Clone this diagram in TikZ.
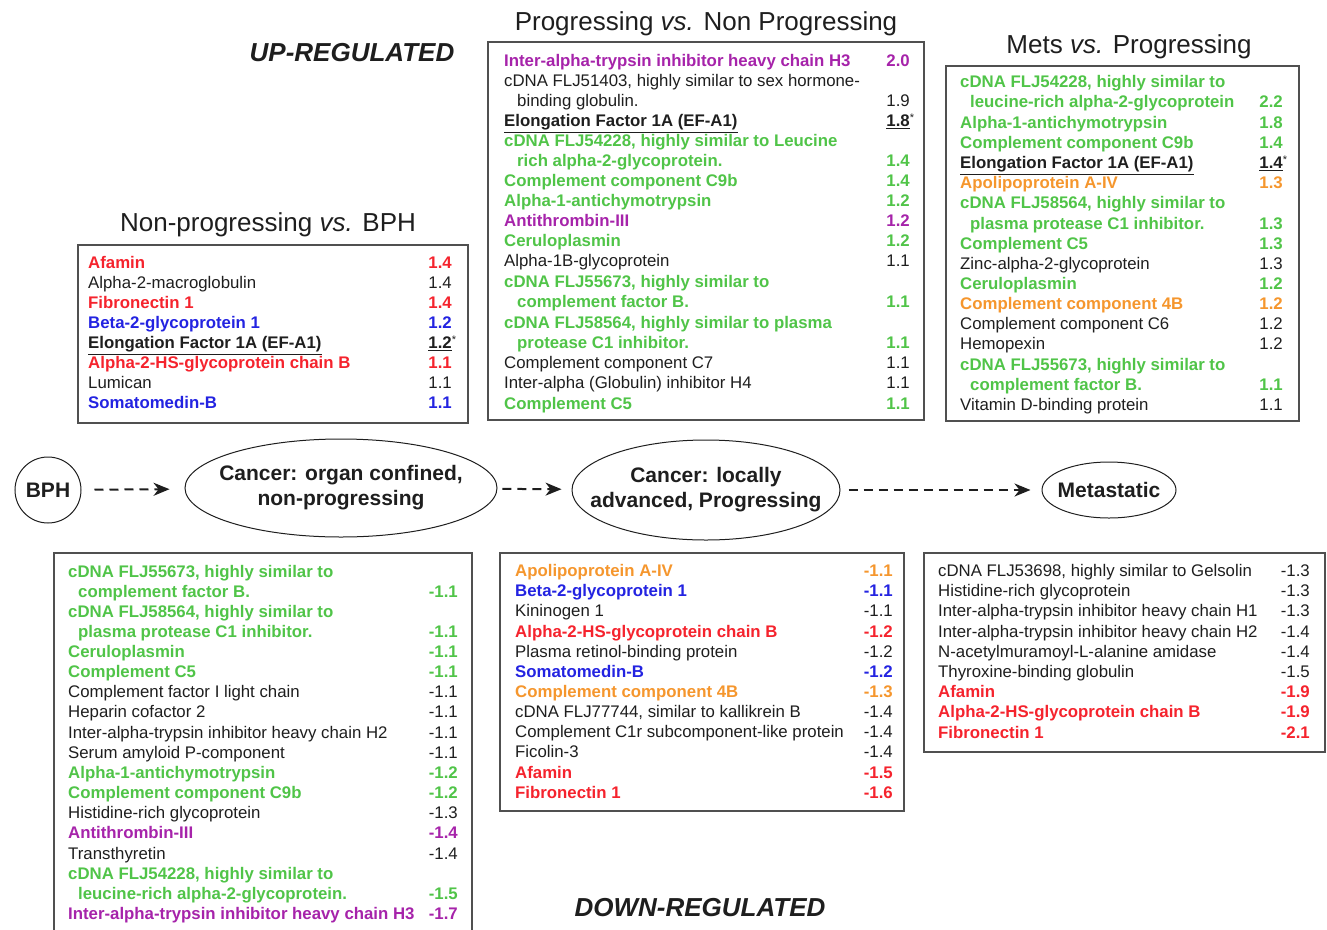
\documentclass[tikz,border=0pt]{standalone}
\usepackage{fontspec}
\setmainfont{Liberation Sans}
\usetikzlibrary{arrows.meta,shapes.geometric}
\definecolor{cgr}{RGB}{80,196,72}
\definecolor{cpu}{RGB}{166,35,170}
\definecolor{cre}{RGB}{245,35,45}
\definecolor{cbl}{RGB}{35,35,225}
\definecolor{cor}{RGB}{245,150,45}
\definecolor{cbk}{RGB}{30,30,30}
\definecolor{cbox}{RGB}{80,80,80}
\newcommand\fsn{\fontsize{16.8}{20}\selectfont}
\newcommand\fsb{\fontsize{16.8}{20}\selectfont\bfseries}
\newcounter{entc}
\newcommand\E[6]{\stepcounter{entc}%
 \node[nm,#1] (n\arabic{entc}) at (#2,#4) {#5};%
 \if\relax\detokenize{#6}\relax\else\node[vl,#1] (v\arabic{entc}) at (#3,#4) {#6};\fi}
\newcommand\EF[4]{\stepcounter{entc}%
 \node[nm,ef] (n\arabic{entc}) at (#1,#3) {\underline{Elongation Factor 1A (EF-A1)}};%
 \node[vl,ef] (v\arabic{entc}) at (#2,#3) {\underline{#4}\rlap{\fontsize{11}{11}\selectfont\mdseries\raisebox{5pt}{*}}};}
\tikzset{
 lbl/.style={font=\fsn, inner sep=0pt, text height=12pt, text depth=3.5pt, yshift=-1.5pt},
 nm/.style={lbl, anchor=west},
 vl/.style={lbl, anchor=east},
 bk/.style={text=cbk, font=\fsn},
 gr/.style={text=cgr, font=\fsb},
 pu/.style={text=cpu, font=\fsb},
 re/.style={text=cre, font=\fsb},
 bl/.style={text=cbl, font=\fsb},
 or/.style={text=cor, font=\fsb},
 ef/.style={text=cbk, font=\fsb},
 box/.style={draw=cbox, line width=1.4pt},
 ttl/.style={text=cbk, font=\fontsize{26}{30}\selectfont, inner sep=0pt, yshift=-2pt},
 bigttl/.style={text=cbk, font=\fontsize{26}{30}\selectfont\bfseries\itshape, inner sep=0pt, yshift=-1pt},
 stage/.style={draw=cbk, line width=1pt, ellipse, inner sep=0pt},
 stagetxt/.style={inner sep=0pt, align=center, text=cbk, font=\fontsize{21}{25}\selectfont\bfseries},
 darr/.style={draw=cbk, line width=2pt, dash pattern=on 9pt off 6pt,
   -{Stealth[length=16pt,width=13pt,inset=5pt]}},
}
\begin{document}
\begin{tikzpicture}[x=1pt,y=-1pt]
\useasboundingbox (0,0) rectangle (1327,929);
% titles
\node[bigttl] (tup) at (352,52) {UP-REGULATED};
\node[bigttl] (tdown) at (700,907) {DOWN-REGULATED};
\node[ttl] (t2) at (706,22) {Progressing \textit{vs.} Non Progressing};
\node[ttl] (t3) at (1129,45) {Mets \textit{vs.} Progressing};
\node[ttl] (t1) at (268,223) {Non-progressing \textit{vs.} BPH};
% boxes
\draw[box] (78,245) rectangle (468,423);
\draw[box] (488,42) rectangle (924,420);
\draw[box] (946,66) rectangle (1299,421);
\draw[box] (54,553) rectangle (472,945);
\draw[box] (500,553) rectangle (904,811);
\draw[box] (924,553) rectangle (1325,752);
% box 1
\E{re}{88}{452}{263}{Afamin}{1.4}
\E{bk}{88}{452}{283}{Alpha-2-macroglobulin}{1.4}
\E{re}{88}{452}{303}{Fibronectin 1}{1.4}
\E{bl}{88}{452}{323}{Beta-2-glycoprotein 1}{1.2}
\EF{88}{452}{343}{1.2}
\E{re}{88}{452}{363}{Alpha-2-HS-glycoprotein chain B}{1.1}
\E{bk}{88}{452}{383}{Lumican}{1.1}
\E{bl}{88}{452}{403}{Somatomedin-B}{1.1}
% box 2
\E{pu}{504}{910}{61}{Inter-alpha-trypsin inhibitor heavy chain H3}{2.0}
\E{bk}{504}{910}{81}{cDNA FLJ51403, highly similar to sex hormone-}{}
\E{bk}{517}{910}{101}{binding globulin.}{1.9}
\EF{504}{910}{121}{1.8}
\E{gr}{504}{910}{141}{cDNA FLJ54228, highly similar to Leucine}{}
\E{gr}{517}{910}{161}{rich alpha-2-glycoprotein.}{1.4}
\E{gr}{504}{910}{181}{Complement component C9b}{1.4}
\E{gr}{504}{910}{201}{Alpha-1-antichymotrypsin}{1.2}
\E{pu}{504}{910}{221}{Antithrombin-III}{1.2}
\E{gr}{504}{910}{241}{Ceruloplasmin}{1.2}
\E{bk}{504}{910}{261}{Alpha-1B-glycoprotein}{1.1}
\E{gr}{504}{910}{282}{cDNA FLJ55673, highly similar to}{}
\E{gr}{517}{910}{302}{complement factor B.}{1.1}
\E{gr}{504}{910}{323}{cDNA FLJ58564, highly similar to plasma}{}
\E{gr}{517}{910}{343}{protease C1 inhibitor.}{1.1}
\E{bk}{504}{910}{363}{Complement component C7}{1.1}
\E{bk}{504}{910}{383}{Inter-alpha (Globulin) inhibitor H4}{1.1}
\E{gr}{504}{910}{404}{Complement C5}{1.1}
% box 3
\E{gr}{960}{1283}{82}{cDNA FLJ54228, highly similar to}{}
\E{gr}{970}{1283}{102}{leucine-rich alpha-2-glycoprotein}{2.2}
\E{gr}{960}{1283}{123}{Alpha-1-antichymotrypsin}{1.8}
\E{gr}{960}{1283}{143}{Complement component C9b}{1.4}
\EF{960}{1283}{163}{1.4}
\E{or}{960}{1283}{183}{Apolipoprotein A-IV}{1.3}
\E{gr}{960}{1283}{203}{cDNA FLJ58564, highly similar to}{}
\E{gr}{970}{1283}{224}{plasma protease C1 inhibitor.}{1.3}
\E{gr}{960}{1283}{244}{Complement C5}{1.3}
\E{bk}{960}{1283}{264}{Zinc-alpha-2-glycoprotein}{1.3}
\E{gr}{960}{1283}{284}{Ceruloplasmin}{1.2}
\E{or}{960}{1283}{304}{Complement component 4B}{1.2}
\E{bk}{960}{1283}{324}{Complement component C6}{1.2}
\E{bk}{960}{1283}{344}{Hemopexin}{1.2}
\E{gr}{960}{1283}{365}{cDNA FLJ55673, highly similar to}{}
\E{gr}{970}{1283}{385}{complement factor B.}{1.1}
\E{bk}{960}{1283}{405}{Vitamin D-binding protein}{1.1}
% box 4
\E{gr}{68}{458}{572}{cDNA FLJ55673, highly similar to}{}
\E{gr}{78}{458}{592}{complement factor B.}{-1.1}
\E{gr}{68}{458}{612}{cDNA FLJ58564, highly similar to}{}
\E{gr}{78}{458}{632}{plasma protease C1 inhibitor.}{-1.1}
\E{gr}{68}{458}{652}{Ceruloplasmin}{-1.1}
\E{gr}{68}{458}{672}{Complement C5}{-1.1}
\E{bk}{68}{458}{692}{Complement factor I light chain}{-1.1}
\E{bk}{68}{458}{712}{Heparin cofactor 2}{-1.1}
\E{bk}{68}{458}{733}{Inter-alpha-trypsin inhibitor heavy chain H2}{-1.1}
\E{bk}{68}{458}{753}{Serum amyloid P-component}{-1.1}
\E{gr}{68}{458}{773}{Alpha-1-antichymotrypsin}{-1.2}
\E{gr}{68}{458}{793}{Complement component C9b}{-1.2}
\E{bk}{68}{458}{813}{Histidine-rich glycoprotein}{-1.3}
\E{pu}{68}{458}{833}{Antithrombin-III}{-1.4}
\E{bk}{68}{458}{854}{Transthyretin}{-1.4}
\E{gr}{68}{458}{874}{cDNA FLJ54228, highly similar to}{}
\E{gr}{78}{458}{894}{leucine-rich alpha-2-glycoprotein.}{-1.5}
\E{pu}{68}{458}{914}{Inter-alpha-trypsin inhibitor heavy chain H3}{-1.7}
% box 5
\E{or}{515}{893}{571}{Apolipoprotein A-IV}{-1.1}
\E{bl}{515}{893}{591}{Beta-2-glycoprotein 1}{-1.1}
\E{bk}{515}{893}{611}{Kininogen 1}{-1.1}
\E{re}{515}{893}{632}{Alpha-2-HS-glycoprotein chain B}{-1.2}
\E{bk}{515}{893}{652}{Plasma retinol-binding protein}{-1.2}
\E{bl}{515}{893}{672}{Somatomedin-B}{-1.2}
\E{or}{515}{893}{692}{Complement component 4B}{-1.3}
\E{bk}{515}{893}{712}{cDNA FLJ77744, similar to kallikrein B}{-1.4}
\E{bk}{515}{893}{732}{Complement C1r subcomponent-like protein}{-1.4}
\E{bk}{515}{893}{752}{Ficolin-3}{-1.4}
\E{re}{515}{893}{773}{Afamin}{-1.5}
\E{re}{515}{893}{793}{Fibronectin 1}{-1.6}
% box 6
\E{bk}{938}{1310}{571}{cDNA FLJ53698, highly similar to Gelsolin}{-1.3}
\E{bk}{938}{1310}{591}{Histidine-rich glycoprotein}{-1.3}
\E{bk}{938}{1310}{611}{Inter-alpha-trypsin inhibitor heavy chain H1}{-1.3}
\E{bk}{938}{1310}{632}{Inter-alpha-trypsin inhibitor heavy chain H2}{-1.4}
\E{bk}{938}{1310}{652}{N-acetylmuramoyl-L-alanine amidase}{-1.4}
\E{bk}{938}{1310}{672}{Thyroxine-binding globulin}{-1.5}
\E{re}{938}{1310}{692}{Afamin}{-1.9}
\E{re}{938}{1310}{712}{Alpha-2-HS-glycoprotein chain B}{-1.9}
\E{re}{938}{1310}{733}{Fibronectin 1}{-2.1}
% stages
\node[stage, circle, minimum size=66pt] (bph) at (48,490) {};
\node[stagetxt] (bpht) at (bph) {BPH};
\node[stage, minimum width=312pt, minimum height=98pt] (c1) at (341,488) {};
\node[stagetxt] (c1t) at (c1) {Cancer: organ confined,\\non-progressing};
\node[stage, minimum width=268pt, minimum height=100pt] (c2) at (706,490) {};
\node[stagetxt] (c2t) at (c2) {Cancer: locally\\advanced, Progressing};
\node[stage, minimum width=134pt, minimum height=56pt] (met) at (1109,490) {};
\node[stagetxt] (mett) at (met) {Metastatic};
\draw[darr, shorten <=13pt, shorten >=15pt] (bph) -- (c1);
\draw[darr, shorten <=5pt, shorten >=10pt] (c1) -- (c2);
\draw[darr, shorten <=8pt, shorten >=11pt] (c2) -- (met);
\end{tikzpicture}
\end{document}
